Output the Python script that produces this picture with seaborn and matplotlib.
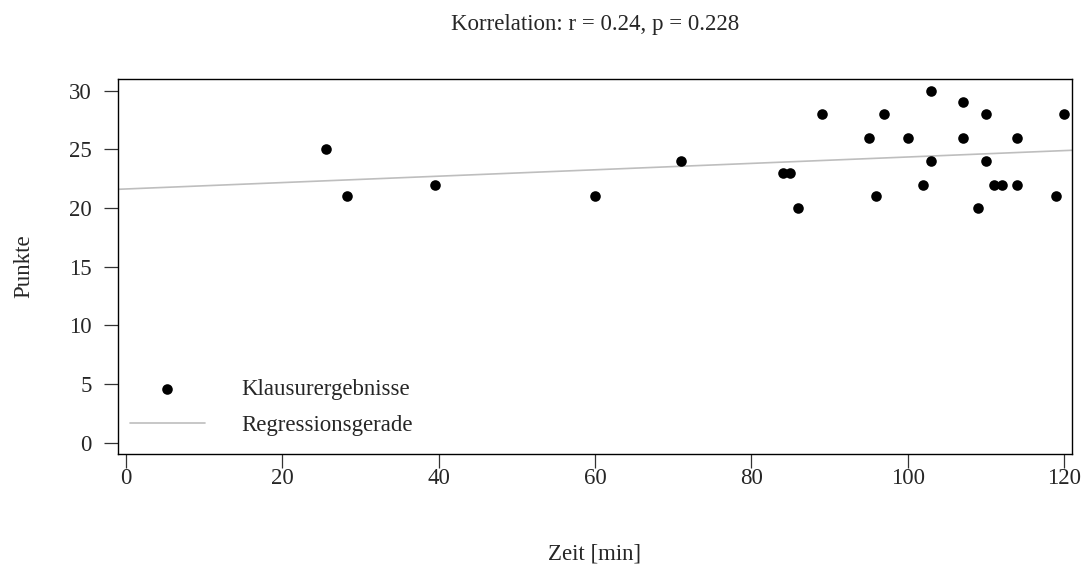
import numpy as np
import pandas as pd
import matplotlib
matplotlib.use("Agg")
import matplotlib.pyplot as plt
import seaborn as sns

zeit = [25.6, 28.3, 39.5, 60, 71, 84, 85, 86, 89, 95, 96, 97, 100, 102, 103, 103,
        107, 107, 109, 110, 110, 111, 112, 114, 114, 119, 120]
punkte = [25, 21, 22, 21, 24, 23, 23, 20, 28, 26, 21, 28, 26, 22, 30, 24,
          29, 26, 20, 28, 24, 22, 22, 26, 22, 21, 28]

df = pd.DataFrame({"zeit": zeit, "punkte": punkte})

sns.set_style("white")
plt.rcParams["font.family"] = ["Liberation Serif", "DejaVu Serif"]
fs = 16.5

fig = plt.figure(figsize=(10.86, 5.67), dpi=100)
ax = fig.add_axes([118 / 1086, 1 - 454 / 567, (1072 - 118) / 1086, (454 - 79) / 567])

m, b = np.polyfit(df["zeit"], df["punkte"], 1)
ax.axline((0, b), slope=m, color="#BEBEBE", lw=1.2, label="Regressionsgerade", zorder=1)
sns.scatterplot(data=df, x="zeit", y="punkte", color="black", edgecolor="black",
                s=58, linewidth=0, ax=ax, label="Klausurergebnisse", zorder=2)

ax.set_xlim(-0.98, 121.0)
ax.set_ylim(-0.96, 31.0)
ax.set_xticks([0, 20, 40, 60, 80, 100, 120])
ax.set_yticks([0, 5, 10, 15, 20, 25, 30])
ax.tick_params(direction="out", length=10, width=0.9, color="#333333",
               labelsize=fs, bottom=True, left=True)
ax.tick_params(axis="x", pad=0)
ax.tick_params(axis="y", pad=9)
for s in ax.spines.values():
    s.set_color("black")
    s.set_linewidth(1.0)

ax.set_xlabel("Zeit [min]", fontsize=fs)
ax.set_ylabel("Punkte", fontsize=fs)
ax.xaxis.set_label_coords(0.5, -0.238)
ax.yaxis.set_label_coords(-0.088, 0.5)
ax.set_title("Korrelation: r = 0.24, p = 0.228", fontsize=fs, pad=35.5)

handles, labels = ax.get_legend_handles_labels()
order = [labels.index("Klausurergebnisse"), labels.index("Regressionsgerade")]
ax.legend([handles[i] for i in order], [labels[i] for i in order],
          loc="lower left", frameon=False, fontsize=fs, handlelength=3.27,
          handletextpad=1.6, borderpad=0, borderaxespad=0, labelspacing=0.67,
          bbox_to_anchor=(0.0126, 0.047))

fig.savefig("out.png", dpi=100)
